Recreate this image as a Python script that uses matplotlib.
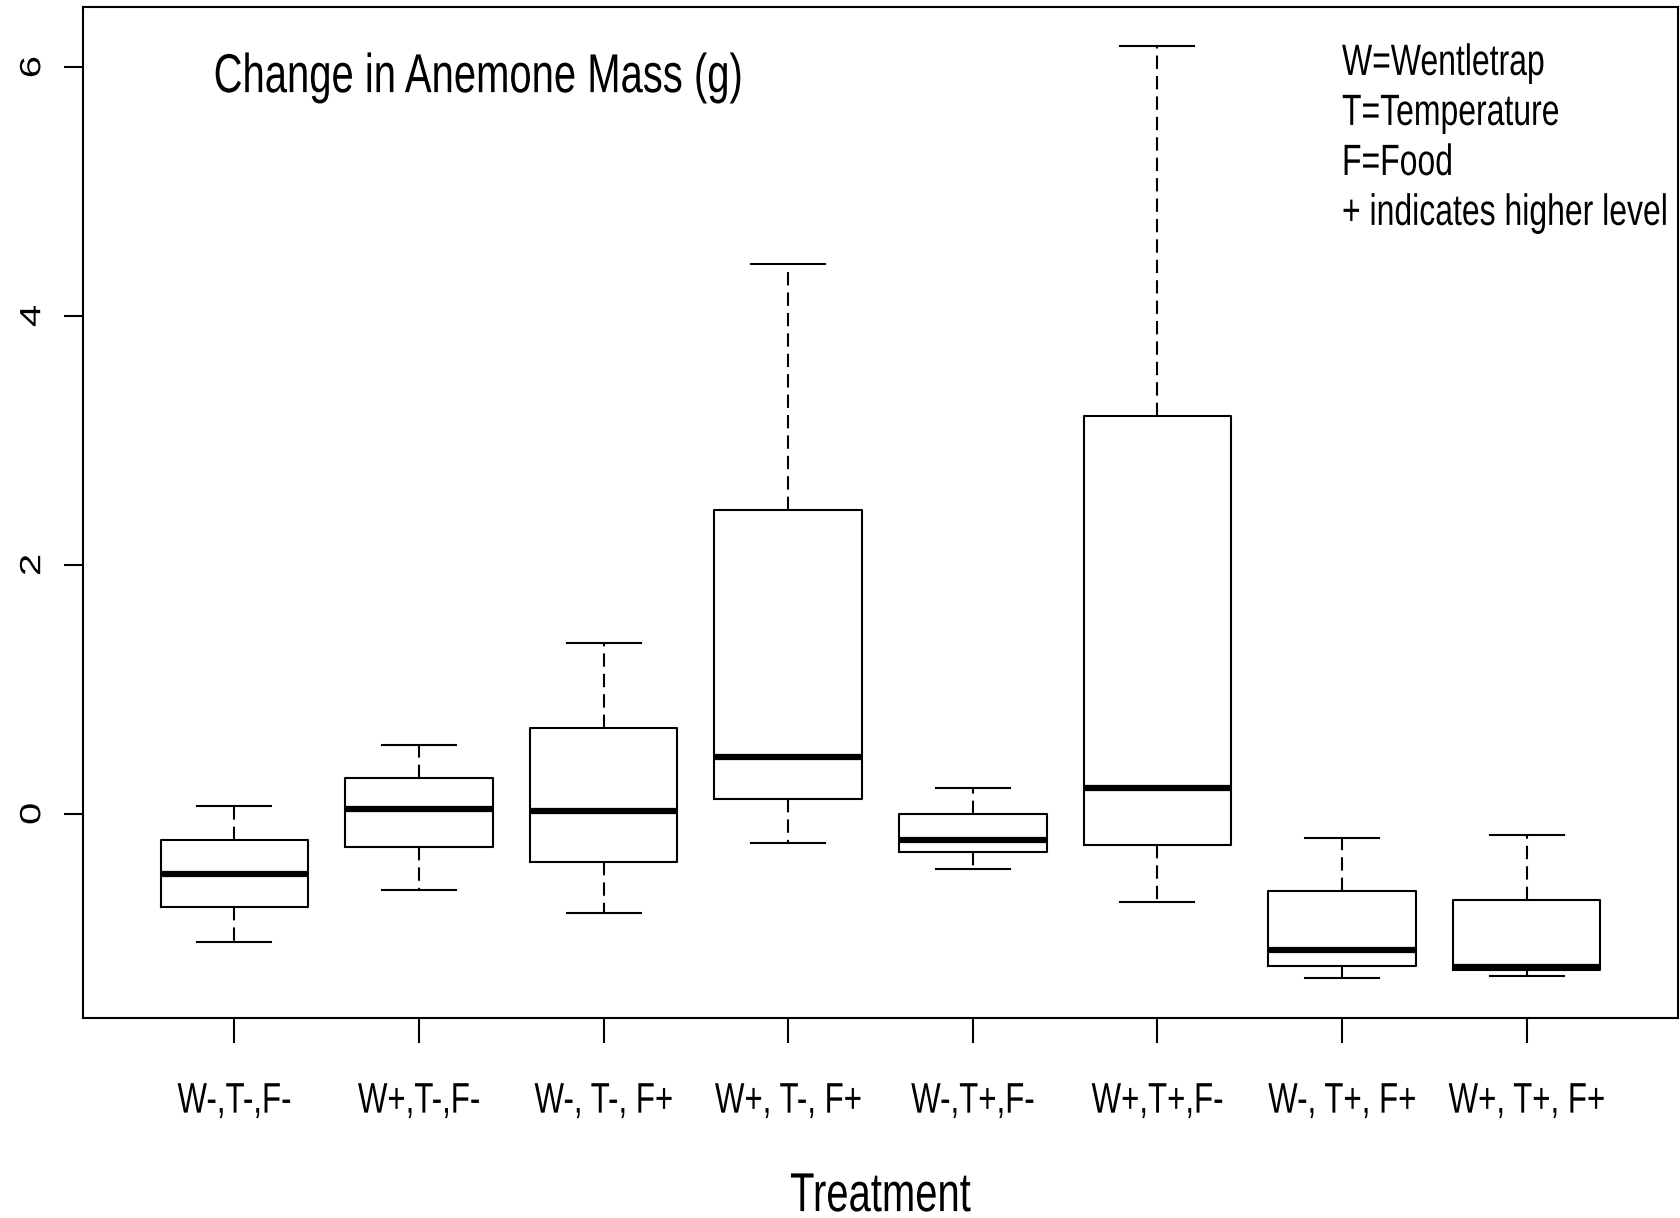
import matplotlib
matplotlib.use("Agg")
import matplotlib.pyplot as plt
from matplotlib.patheffects import AbstractPathEffect
from matplotlib.transforms import Affine2D


# -----------------------------
# DATA
# -----------------------------
treatments = ["W-,T-,F-", "W+,T-,F-", "W-, T-, F+", "W+, T-, F+",
              "W-,T+,F-", "W+,T+,F-", "W-, T+, F+", "W+, T+, F+"]

whisker_low = [-1.03, -0.61, -0.80, -0.23, -0.44, -0.71, -1.32, -1.30]
q1 = [-0.75, -0.27, -0.39, 0.12, -0.31, -0.25, -1.22, -1.255]
median = [-0.48, 0.04, 0.02, 0.46, -0.21, 0.21, -1.09, -1.232]
q3 = [-0.21, 0.29, 0.69, 2.44, 0.0, 3.20, -0.62, -0.69]
whisker_high = [0.06, 0.55, 1.37, 4.42, 0.21, 6.17, -0.19, -0.17]

y_ticks = [0, 2, 4, 6]

title_text = "Change in Anemone Mass (g)"
key_lines = ["W=Wentletrap", "T=Temperature", "F=Food", "+ indicates higher level"]
key_y = [5.937, 5.535, 5.133, 4.732]


# -----------------------------
# TEXT STYLE
# the reference text is tall and narrow, so glyphs get a vertical stretch
# -----------------------------
class StretchY(AbstractPathEffect):
    def __init__(self, factor, about="origin"):
        super().__init__()
        self.factor = factor
        self.about = about

    def draw_path(self, renderer, gc, tpath, affine, rgbFace=None):
        if self.about == "center":
            ext = tpath.get_extents(affine)
            y0 = (ext.y0 + ext.y1) / 2
        else:
            y0 = affine.get_matrix()[1, 2]
        stretch = Affine2D().translate(0, -y0).scale(1, self.factor).translate(0, y0)
        renderer.draw_path(gc, tpath, affine + stretch, rgbFace)


STRETCH = 1.37
font = ["Liberation Sans", "DejaVu Sans"]
tall = [StretchY(STRETCH)]
tall_mid = [StretchY(STRETCH, about="center")]


# -----------------------------
# FIGURE
# -----------------------------
fig = plt.figure(figsize=(16.8, 12.18), dpi=100)
ax = fig.add_axes([0.0494, 0.1645, 0.9494, 0.8298])

stats = []
for i in range(len(treatments)):
    stats.append({
        "whislo": whisker_low[i],
        "q1": q1[i],
        "med": median[i],
        "q3": q3[i],
        "whishi": whisker_high[i],
        "fliers": [],
    })

lw = 1.5
ax.bxp(
    stats,
    positions=range(1, len(treatments) + 1),
    widths=0.8,
    capwidths=0.4,
    showfliers=False,
    boxprops=dict(color="black", linewidth=lw),
    medianprops=dict(color="black", linewidth=4.5, solid_capstyle="butt"),
    whiskerprops=dict(color="black", linewidth=lw, linestyle=(0, (6.4, 3.4))),
    capprops=dict(color="black", linewidth=lw),
)

ax.set_xlim(0.18, 8.82)
ax.set_ylim(-1.637, 6.483)

# -----------------------------
# AXES / TICKS
# -----------------------------
ax.set_xticks(range(1, len(treatments) + 1))
ax.set_xticklabels(treatments, fontsize=22.5, family=font)
for lbl in ax.get_xticklabels():
    lbl.set_verticalalignment("baseline")
    lbl.set_path_effects(tall)

ax.set_yticks(y_ticks)
ax.set_yticklabels([str(v) for v in y_ticks], rotation=90, va="center",
                   fontsize=21, family=font)
for lbl in ax.get_yticklabels():
    lbl.set_path_effects(tall_mid)

ax.tick_params(axis="x", length=17.8, width=lw, pad=50.6)
ax.tick_params(axis="y", length=13.5, width=lw, pad=13)
for s in ax.spines.values():
    s.set_linewidth(lw)

ax.set_xlabel("Treatment", fontsize=28.8, family=font, va="baseline",
              path_effects=tall)
ax.xaxis.set_label_coords(0.5, -0.1914)

# title inside the plot
ax.text(0.0819, 0.9157, title_text, transform=ax.transAxes, fontsize=28.8,
        family=font, ha="left", va="baseline", path_effects=tall)

# key text at the top right
for txt, yy in zip(key_lines, key_y):
    ax.text(7.0, yy, txt, fontsize=23, family=font, ha="left", va="baseline",
            path_effects=tall)

fig.savefig("out.png", dpi=100, facecolor="white")
